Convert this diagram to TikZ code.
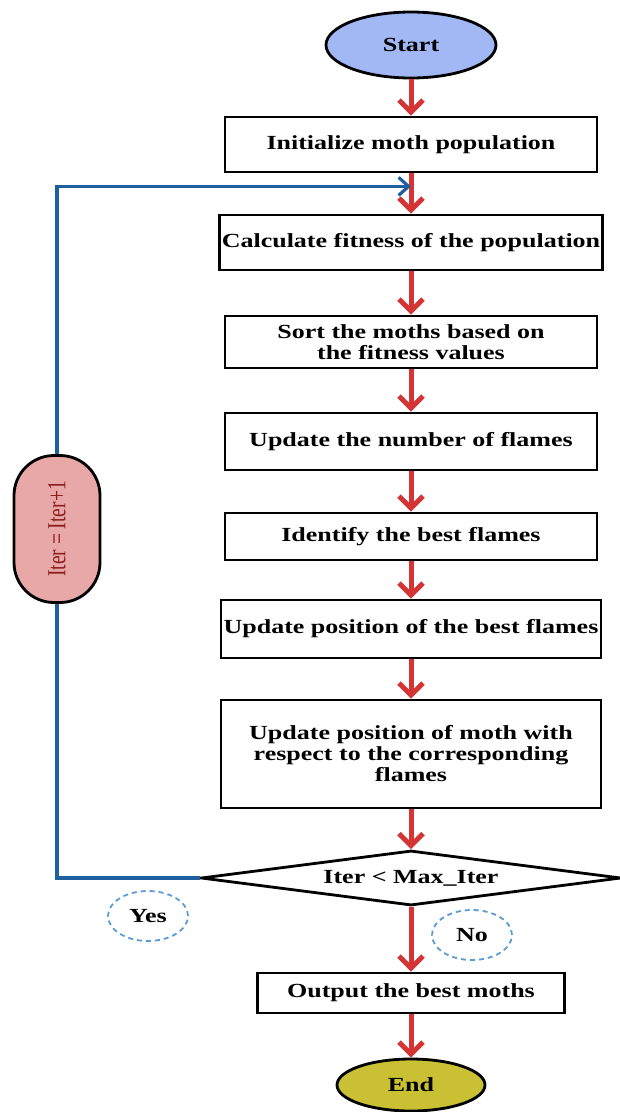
\documentclass[tikz,border=0pt]{standalone}
\usepackage{fontspec}
\setmainfont{Liberation Serif}
\newfontfamily\wideserif[FakeStretch=1.3]{Liberation Serif}
\newfontfamily\tallserif[FakeStretch=0.75]{Liberation Serif}
\usetikzlibrary{shapes.geometric, positioning, arrows.meta}

\definecolor{startblue}{RGB}{162,184,244}
\definecolor{endolive}{RGB}{202,192,52}
\definecolor{pillpink}{RGB}{232,168,168}
\definecolor{pilltext}{RGB}{140,30,30}
\definecolor{flowred}{RGB}{212,52,52}
\definecolor{backblue}{RGB}{30,95,160}
\definecolor{dashblue}{RGB}{90,155,215}

\begin{document}
\begin{tikzpicture}[x=1pt,y=-1pt,on grid,
    >={Straight Barb[length=12pt,width=24pt]},
    every node/.style={font=\wideserif\bfseries\fontsize{20}{21}\selectfont, align=center},
    process/.style={draw, line width=2.8pt, minimum width=372pt, minimum height=55pt, inner sep=2pt},
    terminal/.style={ellipse, draw, line width=2.8pt},
    flow/.style={->, line width=5pt, draw=flowred},
    back/.style={line width=3.2pt, draw=backblue, >={Straight Barb[length=10pt,width=18pt]}},
    answer/.style={ellipse, draw=dashblue, dash pattern=on 5pt off 4pt, line width=1.8pt, minimum width=80pt, minimum height=50pt}]

    \useasboundingbox (0,0) rectangle (620,1112);

    \node[terminal, fill=startblue, minimum width=170pt, minimum height=66pt] (start) at (411,45) {Start};
    \node[process] (init) [below=99.5pt of start] {Initialize moth population};
    \node[process, minimum width=380pt] (fit) [below=98pt of init] {Calculate fitness of the population};
    \node[process, minimum height=52pt] (sort) [below=99.5pt of fit] {Sort the moths based on\\the fitness values};
    \node[process, minimum height=57pt] (nflames) [below=99.5pt of sort] {Update the number of flames};
    \node[process, minimum height=47pt] (best) [below=95pt of nflames] {Identify the best flames};
    \node[process, minimum width=380pt, minimum height=58pt] (posflames) [below=92.5pt of best] {Update position of the best flames};
    \node[process, minimum width=380pt, minimum height=108pt] (posmoth) [below=125pt of posflames] {Update position of moth with\\respect to the corresponding\\flames};
    \node[diamond, draw, line width=2.8pt, aspect=7.6, minimum width=420pt, minimum height=55pt, inner sep=0pt] (check) [below=124pt of posmoth] {Iter < Max\_Iter};
    \node[process, minimum width=307pt, minimum height=40pt] (output) [below=115pt of check] {Output the best moths};
    \node[terminal, fill=endolive, minimum width=148pt, minimum height=52pt] (end) [below=92pt of output] {End};

    % counter update on the way back
    \node[draw, line width=2.8pt, rounded corners=40pt, fill=pillpink, rotate=90,
          minimum width=147pt, minimum height=86pt, text=pilltext,
          font=\tallserif\fontsize{26}{28}\selectfont] (incr) at (57,529) {Iter = Iter+1};

    \node[answer] (yes) at (148,916) {Yes};
    \node[answer] (no) at (472,935) {No};

    \coordinate[below=13pt of init.south] (merge);

    \path[flow]
    (start) edge (init)
    (init) edge (fit)
    (fit) edge (sort)
    (sort) edge (nflames)
    (nflames) edge (best)
    (best) edge (posflames)
    (posflames) edge (posmoth)
    (posmoth) edge (check)
    (check) edge (output)
    (output) edge (end);

    \draw[back] (check.west) -| (incr);
    \draw[back, ->] (incr) |- (merge);

\end{tikzpicture}
\end{document}
